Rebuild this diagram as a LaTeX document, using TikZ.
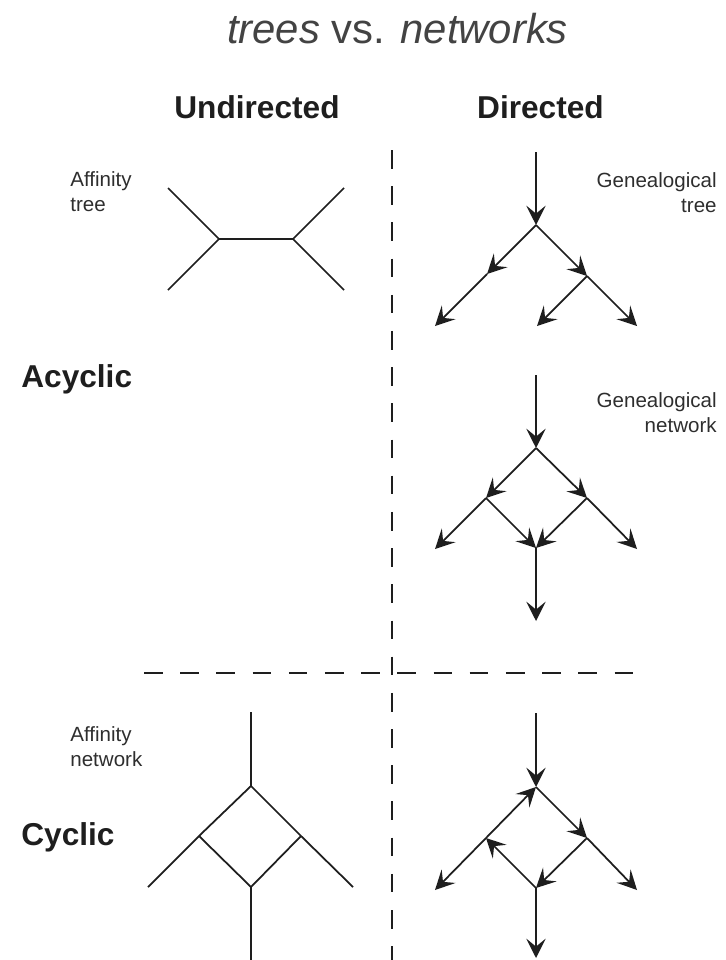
\documentclass[tikz,border=0pt]{standalone}
\usepackage{fontspec}
\setmainfont{Liberation Sans}
\usetikzlibrary{arrows.meta}
\definecolor{ink}{HTML}{1E1E1E}
\definecolor{txt}{HTML}{2E2E2E}
\begin{document}
\begin{tikzpicture}[x=0.02cm,y=-0.02cm,
  edge/.style={draw=ink,line width=1pt},
  arr/.style={edge,-{Stealth[length=11pt,width=11pt,inset=4.5pt]}},
  sep/.style={draw=ink,line width=1.1pt,dash pattern=on 10.6pt off 10pt},
  small/.style={text=txt,inner sep=0pt,font=\fontsize{11.7}{14.2}\selectfont},
  head/.style={text=ink,inner sep=0pt,font=\fontsize{18}{22}\selectfont\bfseries},
  title/.style={text=txt!90!white,inner sep=0pt,font=\fontsize{23.8}{28}\selectfont}]
\useasboundingbox (0,0) rectangle (726,960);
% texts
\node[title,anchor=base] (ttl) at (397.5,43) {\textit{trees} vs. \textit{networks}};
\node[head,anchor=base] (und) at (257,118) {Undirected};
\node[head,anchor=base] (dir) at (540.5,118) {Directed};
\node[head,anchor=base west] (acy) at (21,387) {Acyclic};
\node[head,anchor=base west] (cyc) at (21,845) {Cyclic};
\node[small,anchor=north west,align=left] (lat) at (70,171) {Affinity\\tree};
\node[small,anchor=north west,align=left] (lan) at (70,726) {Affinity\\network};
\node[small,anchor=north east,align=right] (lgt) at (717,172) {Genealogical\\tree};
\node[small,anchor=north east,align=right] (lgn) at (717,392) {Genealogical\\network};
% separators
\coordinate (vtop) at (392,150);
\coordinate (vbot) at (392,962);
\coordinate (hl) at (144,673);
\coordinate (hr) at (640,673);
\path[sep] (vtop) -- (vbot);
\path[sep] (hl) -- (hr);
% affinity tree
\coordinate (a1) at (219,239);
\coordinate (a2) at (293,239);
\coordinate (a1u) at (168,188);
\coordinate (a1d) at (168,290);
\coordinate (a2u) at (344,188);
\coordinate (a2d) at (344,290);
\path[edge] (a1u) -- (a1) -- (a1d);
\path[edge] (a1) -- (a2);
\path[edge] (a2u) -- (a2) -- (a2d);
% genealogical tree
\coordinate (gt0) at (536,152);
\coordinate (gtr) at (536,225);
\coordinate (gtm) at (487,274);
\coordinate (gtl) at (435,326);
\coordinate (gtc) at (587,276);
\coordinate (gtcl) at (537,326);
\coordinate (gtcr) at (637,326);
\path[arr] (gt0) -- (gtr);
\path[arr] (gtr) -- (gtm);
\path[arr] (gtm) -- (gtl);
\path[arr] (gtr) -- (gtc);
\path[arr] (gtc) -- (gtcl);
\path[arr] (gtc) -- (gtcr);
% genealogical network
\coordinate (gn0) at (536,375);
\coordinate (gnr) at (536,448);
\coordinate (gnl) at (486,498);
\coordinate (gnrt) at (587,498);
\coordinate (gnb) at (536,548);
\coordinate (gnll) at (435,549);
\coordinate (gnrl) at (637,549);
\coordinate (gnbb) at (536,621);
\path[arr] (gn0) -- (gnr);
\path[arr] (gnr) -- (gnl);
\path[arr] (gnr) -- (gnrt);
\path[arr] (gnl) -- (gnb);
\path[arr] (gnrt) -- (gnb);
\path[arr] (gnl) -- (gnll);
\path[arr] (gnrt) -- (gnrl);
\path[arr] (gnb) -- (gnbb);
% affinity network
\coordinate (an0) at (251,712);
\coordinate (ant) at (251,786);
\coordinate (anl) at (199,836);
\coordinate (anr) at (301,836);
\coordinate (anb) at (251,887);
\coordinate (anll) at (148,887);
\coordinate (anrl) at (353,887);
\coordinate (anbb) at (251,962);
\path[edge] (an0) -- (ant);
\path[edge] (anll) -- (anl) -- (ant) -- (anr) -- (anrl);
\path[edge] (anl) -- (anb) -- (anr);
\path[edge] (anb) -- (anbb);
% cyclic directed network
\coordinate (cn0) at (536,713);
\coordinate (cnr) at (536,787);
\coordinate (cnl) at (486,838);
\coordinate (cnrt) at (587,838);
\coordinate (cnb) at (536,888);
\coordinate (cnll) at (435,890);
\coordinate (cnrl) at (637,890);
\coordinate (cnbb) at (536,958);
\path[arr] (cn0) -- (cnr);
\path[arr] (cnl) -- (cnr);
\path[arr] (cnr) -- (cnrt);
\path[arr] (cnrt) -- (cnb);
\path[arr] (cnb) -- (cnl);
\path[arr] (cnl) -- (cnll);
\path[arr] (cnrt) -- (cnrl);
\path[arr] (cnb) -- (cnbb);
\end{tikzpicture}
\end{document}
